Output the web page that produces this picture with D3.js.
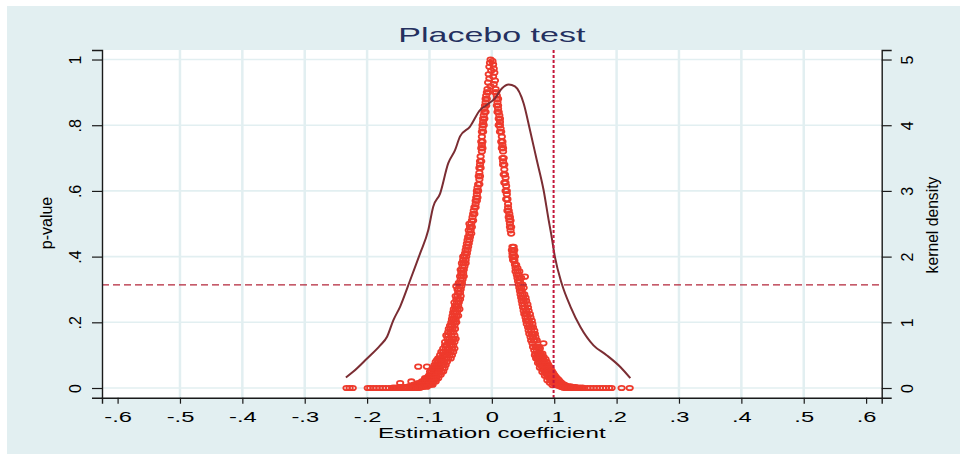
<!DOCTYPE html>
<html>
<head>
<meta charset="utf-8">
<script src="https://cdn.jsdelivr.net/npm/d3@7"></script>
<style>
    body { margin: 0; background: #ffffff; }
    text { font-family: "Liberation Sans", Arial, sans-serif; }
</style>
</head>
<body>
<script>
// x ticks / labels (Stata style)
const xTicks = [-0.6, -0.5, -0.4, -0.3, -0.2, -0.1, 0, 0.1, 0.2, 0.3, 0.4, 0.5, 0.6]
const xTickLabels = ["-.6", "-.5", "-.4", "-.3", "-.2", "-.1", "0", ".1", ".2", ".3", ".4", ".5", ".6"]
const xGrid = [-0.5, -0.4, -0.3, -0.2, -0.1, 0, 0.2, 0.3, 0.4, 0.5]
const yTicks = [0, 0.2, 0.4, 0.6, 0.8, 1]
const yTickLabels = ["0", ".2", ".4", ".6", ".8", "1"]
const y2Ticks = [0, 1, 2, 3, 4, 5]
const y2TickLabels = ["0", "1", "2", "3", "4", "5"]

// reference lines
const refCoef = 0.099
const refP = 0.314

// kernel density of the placebo estimates
const kdX = [-0.234, -0.222, -0.2, -0.179, -0.168, -0.158, -0.147, -0.131, -0.115, -0.102, -0.094, -0.083, -0.07, -0.059, -0.051, -0.035, -0.019, -0.008, 0.005, 0.016, 0.027, 0.037, 0.051, 0.061, 0.072, 0.083, 0.091, 0.095, 0.101, 0.112, 0.126, 0.142, 0.163, 0.184, 0.206, 0.222]
const kdY = [0.16, 0.25, 0.45, 0.65, 0.78, 1.03, 1.24, 1.64, 2.05, 2.4, 2.76, 2.96, 3.42, 3.62, 3.83, 3.98, 4.23, 4.31, 4.41, 4.56, 4.62, 4.59, 4.33, 3.93, 3.47, 3.01, 2.56, 2.35, 2.0, 1.59, 1.24, 0.93, 0.65, 0.5, 0.32, 0.15]

// p-value rows: [p, [coefficients at that p]]
const topRows = [[1.0, [-0.002]], [0.995, [0.001]], [0.99, [-0.003]], [0.985, [0.002]], [0.978, [-0.004]], [0.972, [0.003]], [0.966, [-0.001]], [0.96, [0.004]], [0.955, [-0.005]], [0.948, [0.002]], [0.942, [-0.004]], [0.936, [0.005]], [0.93, [-0.006]], [0.925, [0.003]], [0.918, [-0.002]]]

const leftRows = [
    [0.91, [-0.007]], [0.90, [-0.008, -0.006]], [0.89, [-0.009]], [0.88, [-0.010, -0.008]], [0.87, [-0.010]],
    [0.86, [-0.011, -0.009]], [0.85, [-0.012]], [0.84, [-0.012, -0.010]], [0.83, [-0.013]], [0.82, [-0.012, -0.014]],
    [0.81, [-0.014]], [0.80, [-0.013, -0.015]], [0.79, [-0.015]], [0.78, [-0.014, -0.016]], [0.765, [-0.016]],
    [0.75, [-0.015, -0.017]], [0.74, [-0.016]], [0.73, [-0.017, -0.015]], [0.72, [-0.016]], [0.705, [-0.018]],
    [0.69, [-0.017, -0.019]], [0.68, [-0.019]], [0.67, [-0.018, -0.020]], [0.655, [-0.020]], [0.645, [-0.021, -0.019]],
    [0.635, [-0.020]], [0.62, [-0.022, -0.020]], [0.61, [-0.023]], [0.60, [-0.022, -0.024]], [0.59, [-0.024]],
    [0.58, [-0.025, -0.023]], [0.57, [-0.024, -0.026]], [0.56, [-0.026]], [0.55, [-0.028, -0.026]], [0.54, [-0.029]],
    [0.53, [-0.030, -0.028]], [0.52, [-0.031]], [0.51, [-0.032, -0.030]], [0.50, [-0.033, -0.036]], [0.49, [-0.035, -0.032]],
    [0.48, [-0.034, -0.037]], [0.47, [-0.036, -0.033]], [0.46, [-0.038, -0.035]], [0.45, [-0.039, -0.036]], [0.44, [-0.040, -0.037]],
    [0.43, [-0.041, -0.038]], [0.42, [-0.042, -0.039]], [0.41, [-0.043, -0.040]], [0.40, [-0.044, -0.041, -0.046]], [0.39, [-0.046, -0.042]],
    [0.38, [-0.045, -0.048, -0.042]], [0.37, [-0.047, -0.044]], [0.36, [-0.048, -0.045, -0.050]], [0.35, [-0.049, -0.046]], [0.34, [-0.048, -0.051, -0.045]],
    [0.33, [-0.050, -0.047]], [0.32, [-0.051, -0.048, -0.053]], [0.31, [-0.052, -0.049, -0.057]], [0.30, [-0.053, -0.050, -0.055]], [0.29, [-0.054, -0.051]],
    [0.28, [-0.055, -0.050, -0.058]], [0.27, [-0.054, -0.057, -0.051]], [0.26, [-0.056, -0.060, -0.053]], [0.25, [-0.057, -0.054, -0.059]], [0.24, [-0.058, -0.052, -0.061, -0.055]],
    [0.23, [-0.059, -0.056, -0.062]], [0.22, [-0.060, -0.063, -0.057, -0.054]], [0.21, [-0.061, -0.058, -0.064]], [0.20, [-0.062, -0.057, -0.065, -0.059]], [0.19, [-0.064, -0.067, -0.060]],
    [0.18, [-0.063, -0.066, -0.059, -0.069]], [0.17, [-0.066, -0.062, -0.070]], [0.16, [-0.065, -0.070, -0.060, -0.073]], [0.15, [-0.068, -0.064, -0.071, -0.058, -0.061]], [0.14, [-0.067, -0.070, -0.064, -0.075, -0.060]],
    [0.13, [-0.072, -0.068, -0.075, -0.065, -0.062]], [0.12, [-0.071, -0.068, -0.078, -0.074, -0.064, -0.060]], [0.11, [-0.074, -0.078, -0.070, -0.081, -0.066, -0.062]], [0.10, [-0.078, -0.072, -0.083, -0.075, -0.068, -0.064]], [0.09, [-0.080, -0.083, -0.076, -0.086, -0.073, -0.070, -0.066]],
    [0.085, [-0.079, -0.088]], [0.08, [-0.082, -0.076, -0.085, -0.090, -0.072, -0.079]], [0.07, [-0.084, -0.088, -0.080, -0.092, -0.077, -0.074]], [0.065, [-0.086, -0.091, -0.104, -0.118]], [0.06, [-0.087, -0.083, -0.091, -0.095, -0.079, -0.076]],
    [0.055, [-0.084, -0.089, -0.093]], [0.05, [-0.088, -0.092, -0.085, -0.096, -0.099, -0.081, -0.078]], [0.045, [-0.090, -0.094, -0.087]], [0.04, [-0.092, -0.096, -0.089, -0.100, -0.098, -0.085, -0.082]], [0.035, [-0.094, -0.098, -0.091, -0.102]],
    [0.03, [-0.096, -0.100, -0.093, -0.104, -0.107, -0.089, -0.086]], [0.028, [-0.090, -0.095, -0.101]], [0.025, [-0.098, -0.102, -0.095, -0.106, -0.108]], [0.02, [-0.100, -0.104, -0.097, -0.108, -0.112, -0.129, -0.093, -0.090]],
    [0.015, [-0.103, -0.107, -0.110, -0.114, -0.118, -0.147]], [0.012, [-0.096, -0.101, -0.108, -0.115]], [0.01, [-0.106, -0.110, -0.113, -0.117, -0.121, -0.125, -0.099, -0.102, -0.095]],
    [0.006, [-0.109, -0.113, -0.117, -0.122, -0.127, -0.132, -0.104]], [0.004, [-0.104, -0.110, -0.118, -0.124]],
    [0.003, [-0.112, -0.116, -0.120, -0.126, -0.131, -0.137, -0.142, -0.148]], [0.001, [-0.115, -0.120, -0.125, -0.130, -0.136, -0.141, -0.147, -0.153, -0.158]],
    [0.0, [-0.118, -0.124, -0.130, -0.135, -0.140, -0.145, -0.150, -0.155, -0.160, -0.165, -0.170, -0.175, -0.180, -0.185, -0.190, -0.195, -0.199, -0.223, -0.228, -0.233]]
]

const rightRows = [
    [0.91, [0.006]], [0.90, [0.007, 0.005]], [0.89, [0.008]], [0.88, [0.008, 0.010]], [0.87, [0.009]],
    [0.86, [0.010, 0.008]], [0.85, [0.010]], [0.84, [0.011, 0.009]], [0.83, [0.012]], [0.82, [0.011, 0.013]],
    [0.81, [0.013]], [0.80, [0.013, 0.011]], [0.79, [0.014]], [0.78, [0.015, 0.013]], [0.765, [0.016]],
    [0.75, [0.015, 0.017]], [0.74, [0.017]], [0.73, [0.016, 0.018]], [0.72, [0.018]], [0.70, [0.019, 0.017]],
    [0.69, [0.018]], [0.68, [0.020, 0.018]], [0.665, [0.020]], [0.65, [0.021, 0.019]], [0.64, [0.022]],
    [0.625, [0.022, 0.020]], [0.615, [0.023]], [0.60, [0.024, 0.022]], [0.59, [0.024]], [0.575, [0.025, 0.023]],
    [0.56, [0.026]], [0.55, [0.026]], [0.54, [0.027, 0.025]], [0.53, [0.028]], [0.52, [0.029, 0.027]],
    [0.51, [0.030, 0.028]], [0.50, [0.029]], [0.49, [0.031, 0.029]], [0.48, [0.030]], [0.47, [0.031]],
    [0.43, [0.033, 0.035]], [0.42, [0.034, 0.032, 0.036]], [0.41, [0.033, 0.035]], [0.40, [0.035, 0.033, 0.037]], [0.39, [0.034, 0.036]],
    [0.385, [0.036]], [0.375, [0.037, 0.039]], [0.365, [0.038, 0.041]], [0.355, [0.038, 0.041, 0.044]], [0.345, [0.040, 0.043]],
    [0.339, [0.053]], [0.335, [0.041, 0.044, 0.047]], [0.325, [0.042, 0.045]], [0.315, [0.043, 0.046, 0.049]], [0.305, [0.044, 0.047, 0.051]],
    [0.295, [0.045, 0.048]], [0.285, [0.046, 0.049, 0.052]], [0.275, [0.047, 0.050, 0.054]], [0.265, [0.048, 0.051, 0.055]], [0.255, [0.049, 0.052, 0.057]],
    [0.245, [0.050, 0.053, 0.058]], [0.235, [0.051, 0.055, 0.059]], [0.225, [0.052, 0.056, 0.061, 0.054]], [0.215, [0.054, 0.057, 0.062]], [0.205, [0.055, 0.059, 0.064, 0.058]],
    [0.195, [0.056, 0.060, 0.065]], [0.185, [0.058, 0.061, 0.066, 0.063]], [0.175, [0.059, 0.063, 0.068]], [0.165, [0.060, 0.064, 0.069, 0.066]], [0.155, [0.062, 0.066, 0.070]],
    [0.145, [0.063, 0.067, 0.072, 0.069]], [0.136, [0.065, 0.0827]], [0.125, [0.066, 0.070, 0.074, 0.071]], [0.121, [0.077]], [0.115, [0.068, 0.072, 0.076]],
    [0.105, [0.070, 0.074, 0.078, 0.081]], [0.1, [0.069, 0.075, 0.079]], [0.095, [0.072, 0.076, 0.080, 0.083]], [0.09, [0.071, 0.077]], [0.088, [0.074, 0.078, 0.082, 0.086]],
    [0.08, [0.076, 0.080, 0.084, 0.088]], [0.076, [0.074, 0.080, 0.085]], [0.072, [0.078, 0.082, 0.086, 0.090]], [0.065, [0.080, 0.084, 0.088, 0.092]], [0.062, [0.077, 0.083, 0.089]],
    [0.058, [0.082, 0.086, 0.090, 0.094]], [0.052, [0.084, 0.088, 0.092, 0.096]], [0.049, [0.081, 0.087, 0.093]], [0.046, [0.086, 0.090, 0.094, 0.098]], [0.04, [0.088, 0.092, 0.096, 0.100]],
    [0.037, [0.085, 0.091, 0.097]], [0.035, [0.090, 0.094, 0.098, 0.102]], [0.03, [0.092, 0.096, 0.100, 0.104]], [0.026, [0.094, 0.098, 0.102, 0.106]], [0.024, [0.089, 0.095, 0.101, 0.107]],
    [0.022, [0.096, 0.100, 0.104, 0.108]], [0.018, [0.098, 0.102, 0.106, 0.110]], [0.016, [0.093, 0.099, 0.105, 0.111]], [0.014, [0.100, 0.104, 0.108, 0.112]], [0.011, [0.103, 0.107, 0.111, 0.115]],
    [0.009, [0.097, 0.103, 0.109, 0.116]], [0.008, [0.106, 0.110, 0.114, 0.118]], [0.005, [0.109, 0.113, 0.117, 0.122, 0.126]],
    [0.003, [0.112, 0.116, 0.121, 0.126, 0.130, 0.134]], [0.001, [0.115, 0.120, 0.125, 0.130, 0.135, 0.140, 0.145]],
    [0.0, [0.118, 0.123, 0.128, 0.133, 0.138, 0.143, 0.148, 0.153, 0.158, 0.163, 0.168, 0.173, 0.178, 0.183, 0.188, 0.192, 0.208, 0.221]]
]

const svgWidth = 960
const svgHeight = 455
const plot = {left: 102, right: 881.7, top: 50, bottom: 397.7}
const stretch = 1.58   // horizontal text in the original is wide

const svg = d3.select("body").append("svg")
    .attr("width", svgWidth)
    .attr("height", svgHeight)

svg.append("rect")
    .attr("x", 7).attr("y", 6)
    .attr("width", svgWidth - 7).attr("height", 448)
    .attr("fill", "#e2eff1")

svg.append("rect")
    .attr("x", plot.left).attr("y", plot.top)
    .attr("width", plot.right - plot.left).attr("height", plot.bottom - plot.top)
    .attr("fill", "#ffffff")

const scaleX = d3.scaleLinear().domain([-0.625, 0.625]).range([plot.left, plot.right])
const scaleY = d3.scaleLinear().domain([-0.0295, 1.029]).range([plot.bottom, plot.top])
const scaleY2 = d3.scaleLinear().domain([-0.1475, 5.145]).range([plot.bottom, plot.top])

// grid
svg.append("g").selectAll("line")
    .data(xGrid)
    .join("line")
    .attr("x1", d => scaleX(d)).attr("x2", d => scaleX(d))
    .attr("y1", plot.top).attr("y2", plot.bottom)
    .attr("stroke", "#e2eff1").attr("stroke-width", 2.5)

svg.append("g").selectAll("line")
    .data(yTicks)
    .join("line")
    .attr("x1", plot.left).attr("x2", plot.right)
    .attr("y1", d => scaleY(d)).attr("y2", d => scaleY(d))
    .attr("stroke", "#e2eff1").attr("stroke-width", 1.6)

// scatter of p-values
const toPoints = rows => rows.flatMap(([p, cs]) => cs.map(c => [c, p]))
const allPoints = toPoints(topRows).concat(toPoints(leftRows), toPoints(rightRows))

svg.append("g").selectAll("ellipse")
    .data(allPoints)
    .join("ellipse")
    .attr("cx", d => scaleX(d[0]))
    .attr("cy", d => scaleY(d[1]))
    .attr("rx", 3.2)
    .attr("ry", 2.2)
    .attr("fill", "none")
    .attr("stroke", "#ee3a2c")
    .attr("stroke-width", 1.8)

// kernel density
const kdData = kdX.map((x, i) => ({x: x, y: kdY[i]}))
svg.append("path")
    .datum(kdData)
    .attr("fill", "none")
    .attr("stroke", "#7b2d33")
    .attr("stroke-width", 2)
    .attr("d", d3.line().x(d => scaleX(d.x)).y(d => scaleY2(d.y)).curve(d3.curveMonotoneX))

// reference lines
svg.append("line")
    .attr("x1", plot.left).attr("x2", plot.right)
    .attr("y1", scaleY(refP)).attr("y2", scaleY(refP))
    .attr("stroke", "#b3263a").attr("stroke-width", 1.3)
    .attr("stroke-dasharray", "7,4")

svg.append("line")
    .attr("x1", scaleX(refCoef)).attr("x2", scaleX(refCoef))
    .attr("y1", plot.top).attr("y2", plot.bottom)
    .attr("stroke", "#c4173a").attr("stroke-width", 2)
    .attr("stroke-dasharray", "3,2")

// axes
const styleAxis = g => {
    g.select(".domain").attr("stroke", "#1a1a1a").attr("stroke-width", 1.4)
    g.selectAll(".tick line").attr("stroke", "#1a1a1a").attr("stroke-width", 1.2)
    g.selectAll(".tick text").attr("fill", "#000").style("font-size", "15px")
        .style("font-family", '"Liberation Sans", Arial, sans-serif')
}

svg.append("g")
    .attr("transform", `translate(0,${plot.bottom})`)
    .call(d3.axisBottom(scaleX).tickValues(xTicks).tickSizeOuter(0).tickSize(6)
        .tickFormat((d, i) => xTickLabels[i]))
    .call(styleAxis)
    .call(g => g.selectAll(".tick text")
        .attr("y", 0).attr("dy", 0)
        .attr("transform", `translate(0,24) scale(${stretch},1)`))

svg.append("g")
    .attr("transform", `translate(${plot.left},0)`)
    .call(d3.axisLeft(scaleY).tickValues(yTicks).tickSizeOuter(0).tickSize(10)
        .tickFormat((d, i) => yTickLabels[i]))
    .call(styleAxis)
    .call(g => g.selectAll(".tick text")
        .style("font-size", "16px")
        .attr("x", 0).attr("y", 0).attr("dy", 0)
        .attr("text-anchor", "middle")
        .attr("transform", "translate(-21.5,0) rotate(-90)"))

svg.append("g")
    .attr("transform", `translate(${plot.right},0)`)
    .call(d3.axisRight(scaleY2).tickValues(y2Ticks).tickSizeOuter(0).tickSize(10)
        .tickFormat((d, i) => y2TickLabels[i]))
    .call(styleAxis)
    .call(g => g.selectAll(".tick text")
        .style("font-size", "16px")
        .attr("x", 0).attr("y", 0).attr("dy", 0)
        .attr("text-anchor", "middle")
        .attr("transform", "translate(31,0) rotate(-90)"))

// titles
svg.append("text")
    .attr("transform", `translate(${scaleX(0)},41.7) scale(1.62,1)`)
    .attr("text-anchor", "middle")
    .style("font-size", "21px")
    .attr("fill", "#24305f")
    .text("Placebo test")

svg.append("text")
    .attr("transform", `translate(${scaleX(0)},438) scale(1.61,1)`)
    .attr("text-anchor", "middle")
    .style("font-size", "15px")
    .attr("fill", "#000")
    .text("Estimation coefficient")

svg.append("text")
    .attr("transform", "translate(51.6,223) rotate(-90)")
    .attr("text-anchor", "middle")
    .style("font-size", "16px")
    .attr("fill", "#000")
    .text("p-value")

svg.append("text")
    .attr("transform", "translate(938,225) rotate(-90)")
    .attr("text-anchor", "middle")
    .style("font-size", "15.7px")
    .attr("fill", "#000")
    .text("kernel density")
</script>
</body>
</html>
